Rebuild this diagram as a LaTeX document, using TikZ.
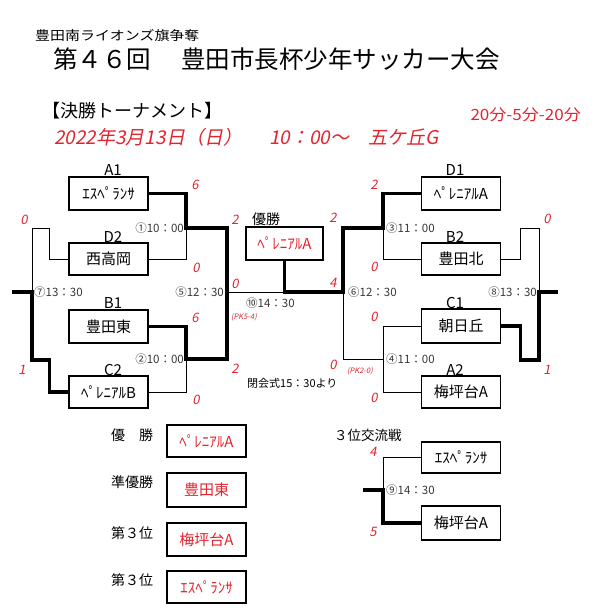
\documentclass[tikz,border=0pt]{standalone}
\usepackage{fontspec}
\setmainfont{Noto Sans CJK JP}
\newfontfamily\jp{Noto Sans CJK JP}
\newfontfamily\jpit{Noto Sans CJK JP}[FakeSlant=0.2]
\definecolor{tred}{RGB}{225,35,45}
\definecolor{tgray}{RGB}{55,55,55}
\begin{document}
\begin{tikzpicture}[x=1pt,y=-1pt,
  team/.style={draw, line width=1.2pt, minimum width=79pt, minimum height=33pt, inner sep=0pt, font=\jp\fontsize{15}{15}\selectfont},
  res/.style={team, line width=1.5pt, text=tred},
  bthin/.style={line width=1pt},
  bthick/.style={line width=3.2pt},
  pool/.style={inner sep=0pt, font=\jp\fontsize{15}{15}\selectfont},
  score/.style={inner sep=0pt, text=tred, font=\jpit\fontsize{13}{13}\selectfont},
  tlabel/.style={inner sep=0pt, text=tgray, font=\jp\fontsize{11.5}{11.5}\selectfont},
  pk/.style={inner sep=0pt, text=tred, font=\jpit\fontsize{7.5}{7.5}\selectfont},
  rlabel/.style={inner sep=0pt, anchor=west, font=\jp\fontsize{14}{14}\selectfont}
]
\useasboundingbox (0,0) rectangle (600,612);

% titles
\node[inner sep=0pt, anchor=west, font=\jp\fontsize{13}{13}\selectfont] (st) at (35,35.5) {\scalebox{1.15}[1]{豊田南ライオンズ旗争奪}};
\node[inner sep=0pt, anchor=west, font=\jp\fontsize{24.5}{24.5}\selectfont] (mt) at (53,59) {第４６回\hspace{30pt}豊田市長杯少年サッカー大会};
\node[inner sep=0pt, anchor=west, font=\jp\fontsize{18}{18}\selectfont] (kt) at (42,111) {【決勝トーナメント】};
\node[inner sep=0pt, anchor=east, text=tred, font=\jp\fontsize{15.5}{15.5}\selectfont] (dur) at (581,114.5) {\scalebox{1.1}[1]{20分-5分-20分}};
\node[inner sep=0pt, anchor=west, text=tred, font=\jpit\fontsize{19}{19}\selectfont] (date) at (54,137) {2022年3月13日（日）\hspace{27pt}10：00～　五ケ丘G};

% team boxes left
\node[team] (A1) at (108.5,193.5) {ｴｽﾍﾟﾗﾝｻ};
\node[team, minimum height=32pt] (D2) at (108.5,259) {西高岡};
\node[team] (B1) at (108.5,326.5) {豊田東};
\node[team, minimum height=32pt] (C2) at (108.5,392) {ﾍﾟﾚﾆｱﾙB};
% team boxes right
\node[team] (D1) at (461,193.5) {ﾍﾟﾚﾆｱﾙA};
\node[team, minimum height=32pt] (B2) at (461,259) {豊田北};
\node[team, minimum height=34pt] (C1) at (461,326) {朝日丘};
\node[team, minimum height=32pt] (A2) at (461,392) {梅坪台A};
% winner box
\node[team, minimum width=77pt, text=tred] (W) at (284.5,243.5) {ﾍﾟﾚﾆｱﾙA};
\node[inner sep=0pt, font=\jp\fontsize{14}{14}\selectfont] (Wl) at (266,219) {優勝};

% pool labels
\node[pool] (lA1) at (113,170) {A1};
\node[pool] (lD2) at (113,237) {D2};
\node[pool] (lB1) at (113,303) {B1};
\node[pool] (lC2) at (113,370) {C2};
\node[pool] (lD1) at (455,170) {D1};
\node[pool] (lB2) at (455,237) {B2};
\node[pool] (lC1) at (455,303) {C1};
\node[pool] (lA2) at (455,370) {A2};

% bracket coordinates
\coordinate (m1) at (186,228);
\coordinate (m2) at (186,359);
\coordinate (s5t) at (227,228);
\coordinate (s5b) at (227,359);
\coordinate (s5m) at (227,292);
\coordinate (fw) at (284.5,292);
\coordinate (s6m) at (343,292);
\coordinate (s6t) at (343,228);
\coordinate (s6b) at (343,359);
\coordinate (m3) at (383,228);
\coordinate (m4) at (383,359);
\coordinate (l7t) at (32,228);
\coordinate (l7b) at (32,360);
\coordinate (l7m) at (32,292);
\coordinate (l7o) at (12,292);
\coordinate (r8t) at (539,228);
\coordinate (r8b) at (539,360);
\coordinate (r8m) at (539,292);
\coordinate (r8o) at (558,292);

% semifinal left (1),(2),(5)
\draw[bthick] (A1.east) -| (m1) -- (s5t) -- (s5b) -- (m2) |- (B1.east);
\draw[bthin] (m1) |- (D2.east);
\draw[bthin] (m2) |- (C2.east);
% final
\draw[bthin] (s5m) -- (fw);
\draw[bthick] (W.south) |- (s6m) -- (s6t) -- (m3) |- (D1.west);
% right (3),(4),(6)
\draw[bthin] (m3) |- (B2.west);
\draw[bthin] (s6m) -- (s6b) -- (m4);
\draw[bthin] (C1.west) -| (m4);
\draw[bthin] (A2.west) -| (m4);
% (7)
\draw[bthin] (D2.west) -- ++(-19,0) |- (l7t) -- (l7m);
\draw[bthick] (C2.west) -- ++(-19,0) |- (l7b) -- (l7m) -- (l7o);
% (8)
\draw[bthin] (B2.east) -- ++(19,0) |- (r8t) -- (r8m);
\draw[bthick] (C1.east) -- ++(19,0) |- (r8b) -- (r8m) -- (r8o);

% scores
\node[score] (sc7a) at (24,220) {0};
\node[score] (sc7b) at (22,370) {1};
\node[score] (sc1a) at (195,185) {6};
\node[score] (sc1b) at (196,268) {0};
\node[score] (sc2a) at (195,318) {6};
\node[score] (sc2b) at (196,400) {0};
\node[score] (sc5a) at (235,220) {2};
\node[score] (sc5m) at (235,284) {0};
\node[score] (sc5b) at (235,369) {2};
\node[score] (sc6a) at (333,218) {2};
\node[score] (sc6m) at (333,283) {4};
\node[score] (sc6b) at (333,365) {0};
\node[score] (sc3a) at (374,185) {2};
\node[score] (sc3b) at (374,267) {0};
\node[score] (sc4a) at (374,317) {0};
\node[score] (sc4b) at (374,398) {0};
\node[score] (sc8a) at (547,219) {0};
\node[score] (sc8b) at (547,370) {1};

% times
\node[tlabel, anchor=east] (t1) at (184,228) {①10：00};
\node[tlabel, anchor=east] (t2) at (184,359) {②10：00};
\node[tlabel, anchor=east] (t5) at (224,292) {⑤12：30};
\node[tlabel, anchor=west] (t7) at (34,292) {⑦13：30};
\node[tlabel, anchor=west] (t10) at (246,303) {⑩14：30};
\node[tlabel, anchor=west] (t3) at (386,228) {③11：00};
\node[tlabel, anchor=west] (t6) at (348,292) {⑥12：30};
\node[tlabel, anchor=west] (t4) at (386,359) {④11：00};
\node[tlabel, anchor=east] (t8) at (537,292) {⑧13：30};
\node[pk, anchor=west] (pk1) at (231,317) {(PK5-4)};
\node[pk, anchor=west] (pk2) at (347,371) {(PK2-0)};
\node[inner sep=0pt, anchor=west, font=\jp\fontsize{11}{11}\selectfont] (open) at (247,383) {閉会式15：30より};

% results
\node[rlabel] (r1l) at (111,435) {優　勝};
\node[rlabel] (r2l) at (111,482) {準優勝};
\node[rlabel] (r3l) at (111,533) {第３位};
\node[rlabel] (r4l) at (111,580) {第３位};
\node[res, minimum height=32pt] (R1) at (206.5,441) {ﾍﾟﾚﾆｱﾙA};
\node[res, minimum height=34pt] (R2) at (206.5,490) {豊田東};
\node[res] (R3) at (206.5,539.5) {梅坪台A};
\node[res, minimum height=32pt] (R4) at (206.5,587) {ｴｽﾍﾟﾗﾝｻ};

% third place match
\node[inner sep=0pt, anchor=west, font=\jp\fontsize{13.5}{13.5}\selectfont] (tp) at (334,435) {３位交流戦};
\node[team, minimum height=31pt] (E3) at (461,457.5) {ｴｽﾍﾟﾗﾝｻ};
\node[team, minimum height=34pt] (U3) at (461,523) {梅坪台A};
\coordinate (t9m) at (383,490);
\coordinate (t9o) at (363,490);
\draw[bthin] (E3.west) -| (t9m);
\draw[bthick] (U3.west) -| (t9m) -- (t9o);
\node[score] (sc9a) at (373,452) {4};
\node[score] (sc9b) at (373,532) {5};
\node[tlabel, anchor=west] (t9) at (386,490) {⑨14：30};
\end{tikzpicture}
\end{document}
